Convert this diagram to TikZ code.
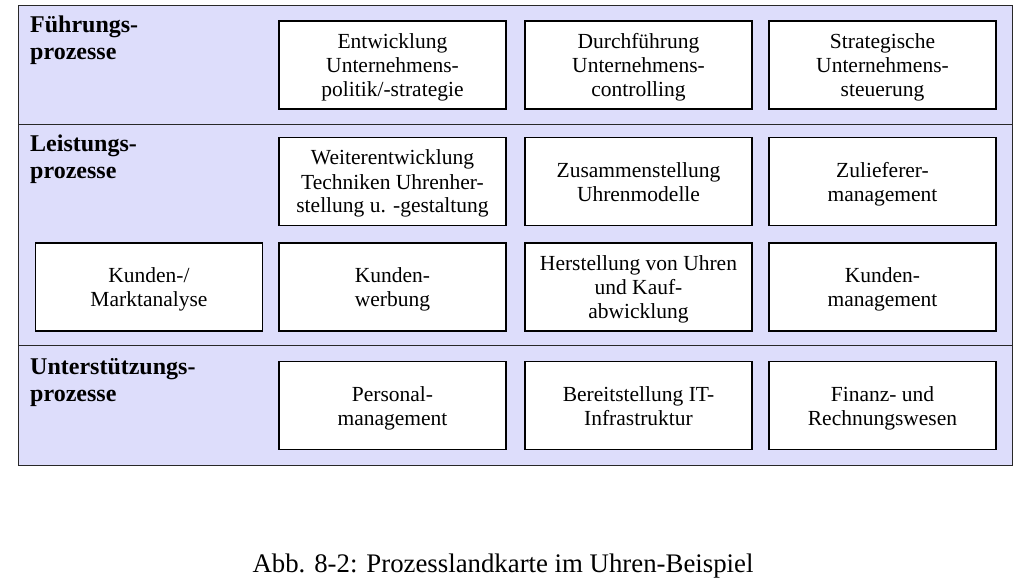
\documentclass[tikz,border=0pt]{standalone}
\usepackage{fontspec}
\setmainfont{Liberation Serif}
\definecolor{lavender}{RGB}{221,221,251}
\definecolor{framegray}{RGB}{40,40,40}
\tikzset{
  band/.style={draw=framegray, line width=1.2pt, fill=lavender, inner sep=0pt,
    minimum width=994pt, anchor=north west},
  procbox/.style={draw=black, line width=1.7pt, fill=white, inner sep=0pt,
    minimum width=227pt, minimum height=88pt, align=center,
    font=\fontsize{21.5}{24}\selectfont, text depth=5pt, text height=44pt},
  % three-line texts: taller text box so the lines sit centred
  threelines/.style={text height=68pt},
  bandlabel/.style={anchor=base west, inner sep=0pt, align=left,
    font=\bfseries\fontsize{24}{27}\selectfont},
}
\begin{document}
\begin{tikzpicture}[x=1pt,y=-1pt]
\useasboundingbox (0,0) rectangle (1033,588);
% three process bands
\node[band, minimum height=119pt] (fp) at (18,5) {};
\node[band, minimum height=221pt] (lp) at (18,124) {};
\node[band, minimum height=120pt] (up) at (18,345) {};
% band titles (anchored on the baseline of their last line)
\node[bandlabel] (tfp) at (30,60) {Führungs-\\prozesse};
\node[bandlabel] (tlp) at (30,179) {Leistungs-\\prozesse};
\node[bandlabel] (tup) at (30,401) {Unterstützungs-\\prozesse};
% Führungsprozesse
\node[procbox, threelines] (f1) at (392.5,65) {Entwicklung\\Unternehmens-\\politik/-strategie};
\node[procbox, threelines] (f2) at (638.5,65) {Durchführung\\Unternehmens-\\controlling};
\node[procbox, threelines] (f3) at (882.5,65) {Strategische\\Unternehmens-\\steuerung};
% Leistungsprozesse
\node[procbox, threelines] (l1) at (392.5,181.5) {Weiterentwicklung\\Techniken Uhrenher-\\stellung u. -gestaltung};
\node[procbox] (l2) at (638.5,181.5) {Zusammenstellung\\Uhrenmodelle};
\node[procbox] (l3) at (882.5,181.5) {Zulieferer-\\management};
\node[procbox] (k1) at (149,287) {Kunden-/\\Marktanalyse};
\node[procbox] (k2) at (392.5,287) {Kunden-\\werbung};
\node[procbox, threelines] (k3) at (638.5,287) {Herstellung von Uhren\\und Kauf-\\abwicklung};
\node[procbox] (k4) at (882.5,287) {Kunden-\\management};
% Unterstützungsprozesse
\node[procbox] (u1) at (392.5,405.5) {Personal-\\management};
\node[procbox] (u2) at (638.5,405.5) {Bereitstellung IT-\\Infrastruktur};
\node[procbox] (u3) at (882.5,405.5) {Finanz- und\\Rechnungswesen};
% caption
\node[anchor=base, inner sep=0pt, font=\fontsize{26.8}{30}\selectfont]
  (cap) at (503,572) {Abb. 8-2: Prozesslandkarte im Uhren-Beispiel};
\end{tikzpicture}
\end{document}
